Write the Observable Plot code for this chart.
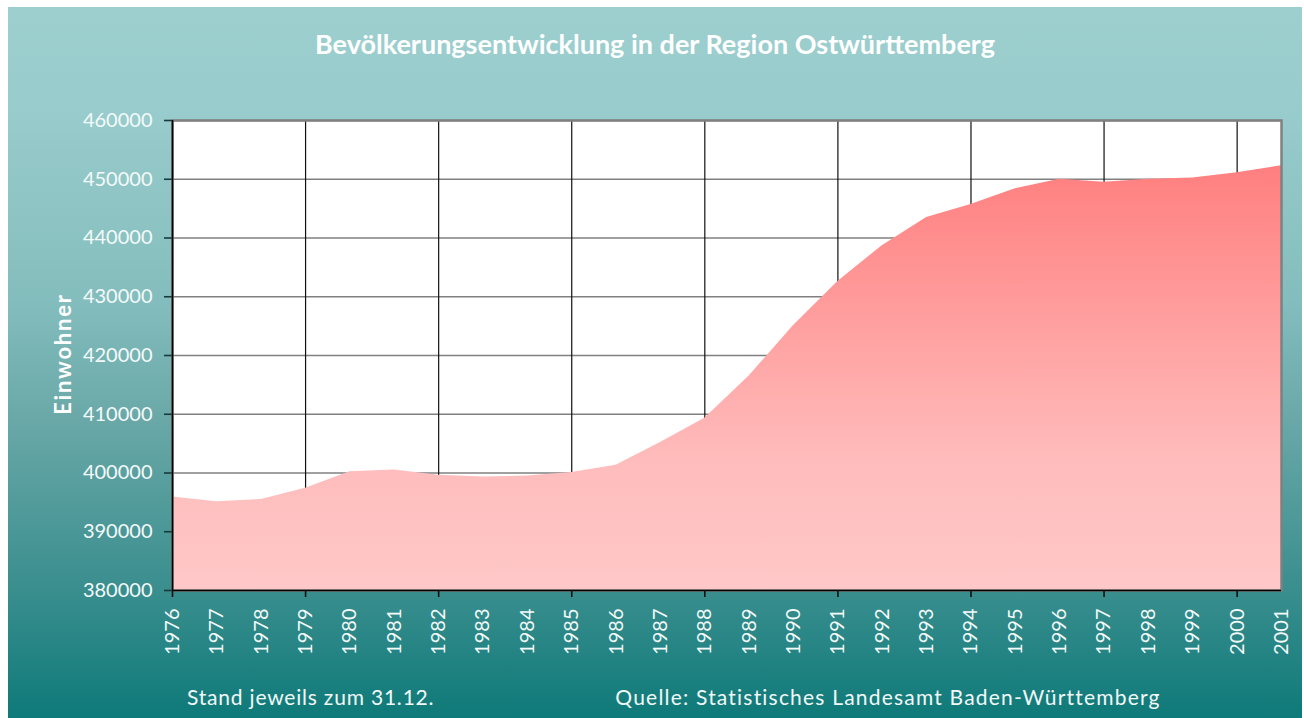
<!DOCTYPE html>
<html><head><meta charset="utf-8">
<script src="https://cdn.jsdelivr.net/npm/d3@7"></script>
<script src="https://cdn.jsdelivr.net/npm/@observablehq/plot@0.6"></script>
<style>
body{margin:0;background:#fff;}
#wrap{position:relative;width:1304px;height:718px;overflow:hidden;font-family:Lato, "Open Sans", sans-serif;}
#bg{position:absolute;left:8px;top:7px;width:1294px;height:711px;background:linear-gradient(to bottom,#9dcfcf 0px,#98cbcb 113px,#84bdbd 293px,#6aa8a8 413px,#3a8e8e 583px,#0e7a79 711px);}
#chart{position:absolute;left:0;top:0;}
.t{position:absolute;color:#fff;white-space:nowrap;}
#title{top:27px;left:8px;width:1294px;text-align:center;font-weight:bold;font-size:27px;}
#ylab{left:62px;top:354px;transform:translate(-50%,-50%) rotate(-90deg);font-weight:bold;font-size:22px;letter-spacing:1.8px;}
#note{left:187px;top:684px;font-size:21px;letter-spacing:0.8px;color:#f2f8f8;}
#src{left:888px;top:684px;transform:translateX(-50%);font-size:21px;letter-spacing:1.2px;color:#f2f8f8;}
</style></head>
<body>
<div id="wrap">
  <div id="bg"></div>
  <div id="chart"></div>
  <div class="t" id="title">Bevölkerungsentwicklung in der Region Ostwürttemberg</div>
  <div class="t" id="ylab">Einwohner</div>
  <div class="t" id="note">Stand jeweils zum 31.12.</div>
  <div class="t" id="src">Quelle: Statistisches Landesamt Baden-Württemberg</div>
</div>
<script>
const years = [1976,1977,1978,1979,1980,1981,1982,1983,1984,1985,1986,1987,1988,1989,1990,1991,1992,1993,1994,1995,1996,1997,1998,1999,2000,2001];
const population = [395900,395100,395500,397400,400200,400500,399600,399300,399500,400100,401300,405200,409300,416500,425100,432600,438700,443500,445700,448400,450000,449500,450000,450200,451100,452300];
const yTicks = [380000,390000,400000,410000,420000,430000,440000,450000,460000];
const majorYears = [1976,1979,1982,1985,1988,1991,1994,1997,2000];
const yBase = 380000;

const data = years.map((year, i) => ({year, population: population[i]}));

const chart = Plot.plot({
  width: 1304, height: 718,
  marginLeft: 172, marginRight: 23, marginTop: 120, marginBottom: 128,
  style: {background: "transparent", fontFamily: "Lato, 'Open Sans', sans-serif", fontSize: "20px", color: "#f4fafa", overflow: "visible"},
  x: {domain: [1976, 2001]},
  y: {domain: [380000, 460000]},
  marks: [
    Plot.frame({fill: "white", stroke: null}),
    Plot.gridY(yTicks, {stroke: "#808080", strokeOpacity: 1, strokeWidth: 1.3}),
    Plot.gridX(majorYears, {stroke: "#111", strokeOpacity: 1, strokeWidth: 1.2}),
    Plot.areaY(data, {x: "year", y1: yBase, y2: "population", fill: "url(#popGrad)"}),
    Plot.frame({stroke: "#808080", strokeWidth: 2.5}),
    Plot.ruleX([1976], {stroke: "#000", strokeWidth: 1.6}),
    Plot.ruleY([yBase], {stroke: "#000", strokeWidth: 1.6}),
    Plot.axisY(yTicks, {tickSize: 8, tickPadding: 12, tickFormat: d => String(d), stroke: "#1a3a3a", fill: "#f4fafa", strokeWidth: 1.6, label: null}),
    Plot.axisX(years, {tickSize: 0, tickPadding: 18, tickRotate: -90, tickFormat: d => String(d), fill: "#f4fafa", label: null}),
    Plot.axisX(majorYears, {tickSize: 7, tickFormat: () => "", stroke: "#111", strokeWidth: 1.6, label: null})
  ]
});

const defs = d3.select(chart).insert("defs", ":first-child");
const grad = defs.append("linearGradient").attr("id", "popGrad")
  .attr("x1", 0).attr("y1", 0).attr("x2", 0).attr("y2", 1);
grad.append("stop").attr("offset", "0").attr("stop-color", "#ff7f7f");
grad.append("stop").attr("offset", "0.7").attr("stop-color", "#ffbcbc");
grad.append("stop").attr("offset", "1").attr("stop-color", "#ffc8c8");

document.getElementById("chart").appendChild(chart);
</script>
</body></html>
